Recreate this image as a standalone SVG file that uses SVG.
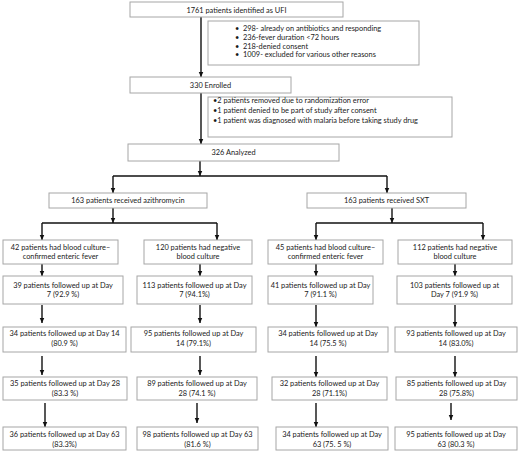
<svg xmlns="http://www.w3.org/2000/svg" width="520" height="453" viewBox="0 0 520 453">
<defs>
<marker id="ah" markerUnits="userSpaceOnUse" markerWidth="7" markerHeight="7" refX="5.5" refY="3.5" orient="auto"><path d="M0,1 L5.5,3.5 L0,6 Z" fill="#111"/></marker>
<style>
rect{fill:#fff;stroke:#a6a6a6;stroke-width:1}
text{font-family:Lato,"Liberation Sans",sans-serif;font-size:7.4px;fill:#1a1a1a}
.c{text-anchor:middle}
.ln{stroke:#111;stroke-width:1.4;fill:none}
.ar{stroke:#111;stroke-width:1.4;fill:none;marker-end:url(#ah)}
</style>
</defs>
<rect x="0" y="0" width="520" height="453" style="fill:#fff;stroke:none"/>
<g id="connectors">
<line class="ar" x1="201" y1="17" x2="201" y2="77"/>
<line class="ar" x1="201" y1="93" x2="201" y2="144"/>
<line class="ln" x1="113" y1="176" x2="387" y2="176"/>
<line class="ar" x1="200" y1="161" x2="200" y2="176"/>
<line class="ar" x1="113" y1="176" x2="113" y2="193"/>
<line class="ar" x1="387" y1="176" x2="387" y2="193"/>
<line class="ln" x1="42" y1="223" x2="217" y2="223"/>
<line class="ar" x1="113" y1="208" x2="113" y2="223"/>
<line class="ar" x1="42" y1="223" x2="42" y2="240"/>
<line class="ar" x1="217" y1="223" x2="217" y2="240"/>
<line class="ln" x1="316" y1="223" x2="483" y2="223"/>
<line class="ar" x1="392" y1="208" x2="392" y2="223"/>
<line class="ar" x1="316" y1="223" x2="316" y2="240"/>
<line class="ar" x1="483" y1="223" x2="483" y2="240"/>
<line class="ar" x1="42" y1="264" x2="42" y2="276"/>
<line class="ar" x1="200" y1="264" x2="200" y2="276"/>
<line class="ar" x1="316" y1="264" x2="316" y2="276"/>
<line class="ar" x1="455" y1="264" x2="455" y2="276"/>
<line class="ar" x1="42" y1="305" x2="42" y2="323"/>
<line class="ar" x1="200" y1="305" x2="200" y2="323"/>
<line class="ar" x1="316" y1="305" x2="316" y2="327"/>
<line class="ar" x1="455" y1="305" x2="455" y2="327"/>
<line class="ar" x1="42" y1="356" x2="42" y2="375"/>
<line class="ar" x1="200" y1="356" x2="200" y2="375"/>
<line class="ar" x1="316" y1="356" x2="316" y2="377"/>
<line class="ar" x1="455" y1="356" x2="455" y2="377"/>
<line class="ar" x1="45" y1="403" x2="45" y2="427"/>
<line class="ar" x1="197" y1="403" x2="197" y2="423"/>
<line class="ar" x1="316" y1="403" x2="316" y2="427"/>
<line class="ar" x1="451" y1="403" x2="451" y2="420"/>
</g>
<g id="n-identified"><rect x="130" y="2" width="213" height="15"/><text class="c" x="236.5" y="12.5">1761 patients identified as UFI</text></g>
<g id="n-excluded1"><rect x="208" y="21" width="211" height="44"/>
<text x="235" y="31">•</text><text x="243" y="31">298- already on antibiotics  and responding</text>
<text x="235" y="40">•</text><text x="243" y="40">236-fever duration &lt;72 hours</text>
<text x="235" y="48.5">•</text><text x="243" y="48.5">218-denied consent</text>
<text x="235" y="57">•</text><text x="243" y="57">1009- excluded for various other reasons</text></g>
<g id="n-enrolled"><rect x="130" y="77" width="161" height="16"/><text class="c" x="210.5" y="87.5">330 Enrolled</text></g>
<g id="n-excluded2"><rect x="208" y="97" width="244" height="40"/>
<text x="213" y="103">•2 patients removed due to randomization error</text>
<text x="213" y="112.5">•1 patient denied to be part of study after consent</text>
<text x="213" y="122.5">•1 patient was diagnosed with malaria before taking study drug</text></g>
<g id="n-analyzed"><rect x="128" y="144" width="211" height="17"/><text class="c" x="233.5" y="155">326 Analyzed</text></g>
<g id="n-azithro"><rect x="49" y="193" width="158" height="15"/><text class="c" x="128" y="203">163 patients received azithromycin</text></g>
<g id="n-sxt"><rect x="307" y="193" width="159" height="15"/><text class="c" x="386.5" y="203">163 patients received SXT</text></g>

<g id="n-a-pos"><rect x="3" y="240" width="115" height="24"/><text class="c" x="60.5" y="249.5">42 patients had blood culture–</text><text class="c" x="60.5" y="258.5">confirmed enteric fever</text></g>
<g id="n-a-neg"><rect x="144" y="240" width="108" height="24"/><text class="c" x="198" y="249.5">120 patients had negative</text><text class="c" x="198" y="258.5">blood culture</text></g>
<g id="n-s-pos"><rect x="268" y="240" width="115" height="24"/><text class="c" x="325.5" y="249.5">45 patients had blood culture–</text><text class="c" x="325.5" y="258.5">confirmed enteric fever</text></g>
<g id="n-s-neg"><rect x="398" y="240" width="114" height="24"/><text class="c" x="455" y="249.5">112 patients had negative</text><text class="c" x="455" y="258.5">blood culture</text></g>

<g id="n-a-pos-d7"><rect x="3" y="276" width="120" height="28"/><text class="c" x="63" y="287.5">39 patients followed up at Day</text><text class="c" x="63" y="296.5">7 (92.9 %)</text></g>
<g id="n-a-neg-d7"><rect x="137" y="276" width="115" height="28"/><text class="c" x="194.5" y="287.5">113 patients followed up at Day</text><text class="c" x="194.5" y="296.5">7 (94.1%)</text></g>
<g id="n-s-pos-d7"><rect x="268" y="276" width="105" height="28"/><text class="c" x="320.5" y="287.5">41 patients followed up at Day</text><text class="c" x="320.5" y="296.5">7 (91.1 %)</text></g>
<g id="n-s-neg-d7"><rect x="397" y="276" width="115" height="28"/><text class="c" x="454.5" y="287.5">103 patients followed up at</text><text class="c" x="454.5" y="296.5">Day 7 (91.9 %)</text></g>

<g id="n-a-pos-d14"><rect x="3" y="327" width="123" height="25"/><text class="c" x="64.5" y="335.5">34 patients followed up at Day 14</text><text class="c" x="64.5" y="345.5">(80.9 %)</text></g>
<g id="n-a-neg-d14"><rect x="131" y="327" width="125" height="25"/><text class="c" x="193.5" y="335.5">95  patients followed up at Day</text><text class="c" x="193.5" y="345.5">14 (79.1%)</text></g>
<g id="n-s-pos-d14"><rect x="268" y="327" width="120" height="25"/><text class="c" x="328" y="335.5">34 patients followed up at Day</text><text class="c" x="328" y="345.5">14 (75.5 %)</text></g>
<g id="n-s-neg-d14"><rect x="395" y="327" width="122" height="25"/><text class="c" x="456" y="335.5">93 patients followed up at Day</text><text class="c" x="456" y="345.5">14 (83.0%)</text></g>

<g id="n-a-pos-d28"><rect x="3" y="377" width="124" height="23"/><text class="c" x="65" y="385.5">35 patients  followed up at Day 28</text><text class="c" x="65" y="395.5">(83.3 %)</text></g>
<g id="n-a-neg-d28"><rect x="137" y="377" width="120" height="23"/><text class="c" x="197" y="385.5">89 patients followed up at Day</text><text class="c" x="197" y="395.5">28 (74.1 %)</text></g>
<g id="n-s-pos-d28"><rect x="272" y="377" width="115" height="23"/><text class="c" x="329.5" y="385.5">32 patients followed up at Day</text><text class="c" x="329.5" y="395.5">28  (71.1%)</text></g>
<g id="n-s-neg-d28"><rect x="396" y="377" width="121" height="23"/><text class="c" x="456.5" y="385.5">85 patients followed up at Day</text><text class="c" x="456.5" y="395.5">28 (75.8%)</text></g>

<g id="n-a-pos-d63"><rect x="3" y="427" width="123" height="23"/><text class="c" x="64.5" y="436.5">36 patients  followed up at Day 63</text><text class="c" x="64.5" y="446.5">(83.3%)</text></g>
<g id="n-a-neg-d63"><rect x="137" y="427" width="121" height="23"/><text class="c" x="197.5" y="436.5">98 patients followed up at Day 63</text><text class="c" x="197.5" y="446.5">(81.6 %)</text></g>
<g id="n-s-pos-d63"><rect x="276" y="427" width="112" height="23"/><text class="c" x="332" y="436.5">34 patients followed up at Day</text><text class="c" x="332" y="446.5">63 (75. 5 %)</text></g>
<g id="n-s-neg-d63"><rect x="395" y="427" width="122" height="23"/><text class="c" x="456" y="436.5">95 patients followed up at Day</text><text class="c" x="456" y="446.5">63 (80.3 %)</text></g>
</svg>
